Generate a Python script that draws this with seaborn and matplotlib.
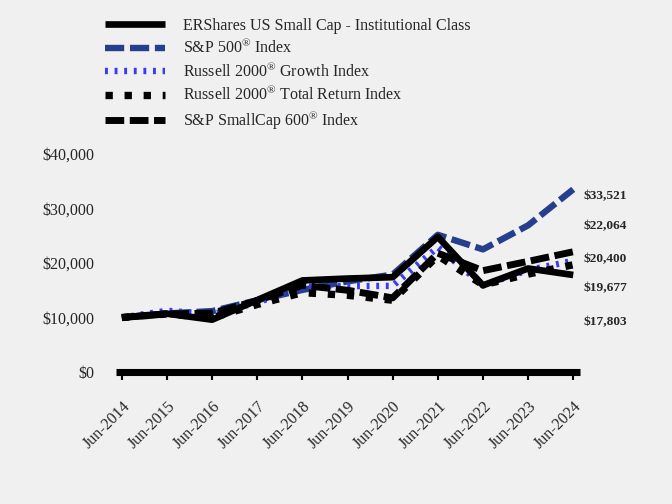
import numpy as np
import pandas as pd
import matplotlib
matplotlib.use("Agg")
import matplotlib.pyplot as plt
import seaborn as sns

# dados (valor de um investimento de $10.000)
periodos = ['Jun-2014', 'Jun-2015', 'Jun-2016', 'Jun-2017', 'Jun-2018', 'Jun-2019',
            'Jun-2020', 'Jun-2021', 'Jun-2022', 'Jun-2023', 'Jun-2024']
ershares = [10000, 10700, 9600, 13200, 16800, 17150, 17400, 24800, 15900, 19000, 17803]
sp500 = [10000, 10742, 11171, 13170, 15064, 16632, 17880, 25175, 22502, 26911, 33521]
r2000_growth = [10000, 11234, 10600, 12750, 15650, 15750, 15800, 22900, 15900, 18700, 20400]
r2000_total = [10000, 10657, 9941, 12387, 14561, 14078, 13165, 21352, 15977, 17965, 19677]
sp600 = [10000, 10650, 10800, 13100, 15900, 15000, 13600, 21800, 18600, 20300, 22064]

nomes = ['ERShares US Small Cap - Institutional Class',
         'S&P 500$^{®}$ Index',
         'Russell 2000$^{®}$ Growth Index',
         'Russell 2000$^{®}$ Total Return Index',
         'S&P SmallCap 600$^{®}$ Index']
rotulos_finais = ['$33,521', '$22,064', '$20,400', '$19,677', '$17,803']
y_ticks = [0, 10000, 20000, 30000, 40000]

sns.set_theme(style='white')
plt.rcParams['font.family'] = ['Liberation Serif', 'DejaVu Serif']
plt.rcParams['mathtext.fontset'] = 'custom'
plt.rcParams['mathtext.rm'] = 'Liberation Serif'

fundo = '#f0f0f0'
fig = plt.figure(figsize=(7, 5.25), dpi=96, facecolor=fundo)
ax = fig.add_axes([0.1726, 0.2619, 0.6905, 0.4325], facecolor=fundo)

x = np.arange(len(periodos))
series = [ershares, sp500, r2000_growth, r2000_total, sp600]
estilos = [
    dict(color='black', lw=5.0, linestyle='-'),
    dict(color='#253f8e', lw=4.8, linestyle=(0, (3.0, 0.9))),
    dict(color='#3a3af5', lw=4.8, linestyle=(0, (0.45, 1.05))),
    dict(color='black', lw=5.5, linestyle=(0, (1.0, 1.6))),
    dict(color='black', lw=5.2, linestyle=(0, (2.7, 0.8))),
]
ordem = [1, 2, 3, 4, 0]
for i in ordem:
    sns.lineplot(x=x, y=series[i], ax=ax, label=nomes[i],
                 solid_capstyle='butt', dash_capstyle='butt', **estilos[i])
handles_all, labels_all = ax.get_legend_handles_labels()
mapa = dict(zip(labels_all, handles_all))
ax.get_legend().remove()

fig.legend([mapa[n] for n in nomes], nomes, loc='upper left',
           bbox_to_anchor=(0.135, 0.993), frameon=False, fontsize=12,
           handlelength=3.75, handletextpad=1.1, labelspacing=0.3)

ax.set_xlim(-0.13, 10.15)
ax.set_ylim(0, 40000)
ax.set_yticks(y_ticks)
ax.set_yticklabels([f'${v:,.0f}' for v in y_ticks], fontsize=12)
ax.set_xticks(x)
ax.set_xticklabels(periodos, rotation=45, ha='right', rotation_mode='anchor', fontsize=12)
ax.tick_params(axis='y', length=0, pad=16)
ax.tick_params(axis='x', bottom=True, length=6, width=1.6, color='black',
               direction='out', pad=14)

for s in ['top', 'right', 'left']:
    ax.spines[s].set_visible(False)
ax.spines['bottom'].set_linewidth(5.3)
ax.spines['bottom'].set_color('black')
ax.spines['bottom'].set_capstyle('butt')
ax.spines['bottom'].set_zorder(5)

# rótulos dos valores finais, espaçados à direita
pos_rotulos = [32300, 26800, 20700, 15400, 9200]
for txt, yv in zip(rotulos_finais, pos_rotulos):
    ax.text(10.22, yv, txt, fontsize=10, fontweight='bold', va='center', ha='left',
            clip_on=False)

plt.savefig('out.png', dpi=96, facecolor=fundo)
